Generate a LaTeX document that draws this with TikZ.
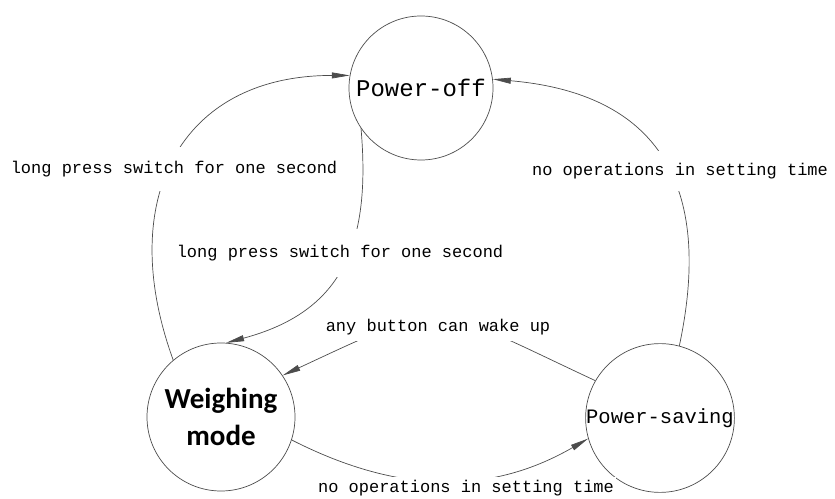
\documentclass[tikz,border=0pt]{standalone}
\usepackage{fontspec}
\setmainfont{Liberation Mono}
\newfontfamily\statefont{Carlito}
\usetikzlibrary{arrows.meta}

\begin{document}
\begin{tikzpicture}[x=1pt,y=1pt,every node/.style={align=center},
stnode/.style={circle,draw=black!70,line width=0.7pt,inner sep=0pt,minimum size=#1},
lbl/.style={fill=white,inner xsep=2pt,inner ysep=#1,font=\fontsize{17}{20}\selectfont},
arr/.style={draw=black!70,line width=0.7pt,-{Triangle[length=18pt,width=6pt]}}
]
\useasboundingbox (0,0) rectangle (835,498);
\node[stnode=144pt,font=\fontsize{24}{28}\selectfont] (poweroff) at (421,410) {Power-off};
\node[stnode=148pt,font=\statefont\bfseries\fontsize{29}{37}\selectfont] (weighing) at (221,81) {Weighing\\mode};
\node[stnode=148pt,font=\fontsize{20.5}{24}\selectfont] (saving) at (660,80) {Power-saving};
% connectors
\draw[arr] (weighing.130) to[out=110,in=180,looseness=1.3] (poweroff.170); % <- outer
\draw[arr] (poweroff.214) to[out=-85,in=15,looseness=1.2] (weighing.86); % <- inner
\draw[arr] (saving.75) to[out=78,in=-5,looseness=1.3] (poweroff.7);
\draw[arr] (saving.150) to[out=155,in=25,looseness=1.5] (weighing.34);
\draw[arr] (weighing.-18) to[out=-27,in=-150] (saving.196);
% labels
\node[lbl=14pt] (presso) at (174,329) {long press switch for one second};
\node[lbl=16pt] (pressi) at (340,245) {long press switch for one second};
\node[lbl=12pt] (idleup) at (680,327) {no operations in setting time};
\node[lbl=6pt] (wake) at (438,171) {any button can wake up};
\node[lbl=3pt] (idlelow) at (466,10) {no operations in setting time};
\end{tikzpicture}
\end{document}
